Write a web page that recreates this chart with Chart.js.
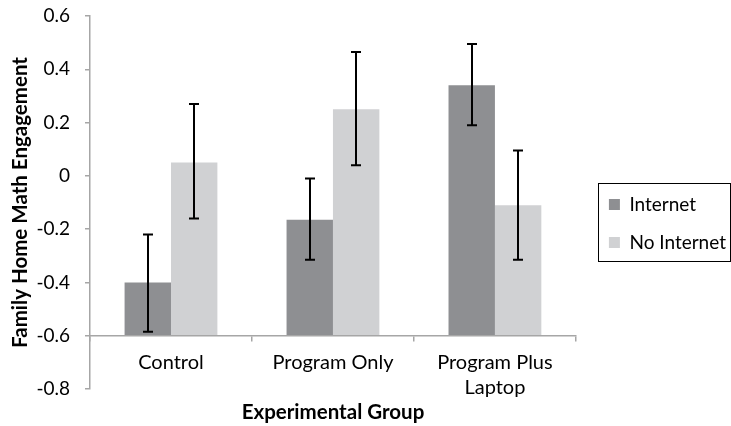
<!DOCTYPE html>
<html>
<head>
<meta charset="utf-8">
<script src="https://cdn.jsdelivr.net/npm/chart.js@4/dist/chart.umd.min.js"></script>
<style>
  html, body { margin: 0; padding: 0; background: #fff; }
  #wrap { width: 731px; height: 426px; }
</style>
</head>
<body>
<div id="wrap"><canvas id="chart" width="731" height="426"></canvas></div>
<script>
// Values
const groups = ['Control', 'Program Only', ['Program Plus', 'Laptop']];
const internet = [-0.40, -0.165, 0.34];
const noInternet = [0.05, 0.25, -0.11];
const internetLow = [-0.585, -0.315, 0.19];
const internetHigh = [-0.22, -0.01, 0.495];
const noInternetLow = [-0.16, 0.04, -0.315];
const noInternetHigh = [0.27, 0.465, 0.095];
const yTicks = [0.6, 0.4, 0.2, 0, -0.2, -0.4, -0.6, -0.8];

const FONT = 'Lato, "Open Sans", sans-serif';
const axisGray = '#a6a6a6';
const BOX = 11;

// Error bars drawn from the low/high arrays via the y scale
const errorBars = {
  id: 'errorBars',
  afterDatasetsDraw(chart) {
    const ctx = chart.ctx;
    const y = chart.scales.y;
    const ranges = [[internetLow, internetHigh], [noInternetLow, noInternetHigh]];
    ctx.save();
    ctx.strokeStyle = '#000';
    ctx.lineWidth = 2;
    ranges.forEach(([lo, hi], di) => {
      const meta = chart.getDatasetMeta(di);
      meta.data.forEach((bar, i) => {
        const top = y.getPixelForValue(hi[i]);
        const bottom = y.getPixelForValue(lo[i]);
        const x = Math.round(bar.x);
        ctx.beginPath();
        ctx.moveTo(x, top);
        ctx.lineTo(x, bottom);
        ctx.moveTo(x - 5, top);
        ctx.lineTo(x + 5, top);
        ctx.moveTo(x - 5, bottom);
        ctx.lineTo(x + 5, bottom);
        ctx.stroke();
      });
    });
    ctx.restore();
  }
};

// Nudge the legend and put a frame round it, like the Excel original
const legendFrame = {
  id: 'legendFrame',
  afterLayout(chart) {
    const lg = chart.legend;
    lg.left += 14; lg.right += 14;
    lg.top += 21; lg.bottom += 21;
  },
  afterDraw(chart) {
    const boxes = chart.legend.legendHitBoxes;
    if (!boxes || !boxes.length) return;
    const first = boxes[0];
    const last = boxes[boxes.length - 1];
    const ctx = chart.ctx;
    ctx.save();
    ctx.strokeStyle = '#000';
    ctx.lineWidth = 1;
    const x0 = Math.round(first.left) - 10.5;
    const y0 = Math.round(first.top + (first.height - BOX) / 2) - 15.5;
    const y1 = Math.round(last.top + (last.height + BOX) / 2) + 13.5;
    ctx.strokeRect(x0, y0, 730.5 - x0, y1 - y0);
    ctx.restore();
  }
};

new Chart(document.getElementById('chart'), {
  type: 'bar',
  data: {
    labels: groups,
    datasets: [
      {
        label: 'Internet',
        data: internet,
        base: -0.6,
        backgroundColor: '#8e8f92'
      },
      {
        label: 'No Internet',
        data: noInternet,
        base: -0.6,
        backgroundColor: '#d0d1d3'
      }
    ]
  },
  options: {
    responsive: false,
    animation: false,
    events: [],
    layout: { padding: { top: 16, right: 9, bottom: 37, left: 0 } },
    datasets: {
      bar: { categoryPercentage: 0.573, barPercentage: 1.0 }
    },
    scales: {
      x: {
        position: { y: -0.6 },
        afterFit: scale => { scale.height -= 13; },
        grid: {
          offset: true,
          drawOnChartArea: false,
          drawTicks: true,
          tickLength: 5,
          color: axisGray,
          lineWidth: 1.5
        },
        border: { display: true, color: axisGray, width: 1.5 },
        ticks: {
          color: '#000',
          padding: 9,
          font: { family: FONT, size: 20, lineHeight: 1.25 }
        },
        title: {
          display: true,
          text: 'Experimental Group',
          color: '#000',
          padding: { top: 4, bottom: 8 },
          font: { family: FONT, size: 20.5, weight: 'bold' }
        }
      },
      y: {
        min: -0.8,
        max: 0.6,
        afterFit: scale => {
          scale.width = 90;
          scale.paddingTop = 0;
          scale.paddingBottom = 0;
        },
        afterBuildTicks: scale => {
          scale.ticks = yTicks.map(v => ({ value: v }));
        },
        grid: {
          drawOnChartArea: false,
          drawTicks: true,
          tickLength: 5,
          color: axisGray,
          lineWidth: 1.5
        },
        border: { display: true, color: axisGray, width: 1.5 },
        ticks: {
          color: '#000',
          padding: 15,
          font: { family: FONT, size: 19 },
          callback: v => String(Number(v.toFixed(1)))
        },
        title: {
          display: true,
          text: 'Family Home Math Engagement',
          color: '#000',
          padding: { top: 8, bottom: 4 },
          font: { family: FONT, size: 20.5, weight: 'bold' }
        }
      }
    },
    plugins: {
      legend: {
        position: 'right',
        labels: {
          color: '#000',
          boxWidth: BOX,
          boxHeight: BOX,
          padding: 19,
          font: { family: FONT, size: 19 }
        }
      },
      tooltip: { enabled: false }
    }
  },
  plugins: [errorBars, legendFrame]
});
</script>
</body>
</html>
